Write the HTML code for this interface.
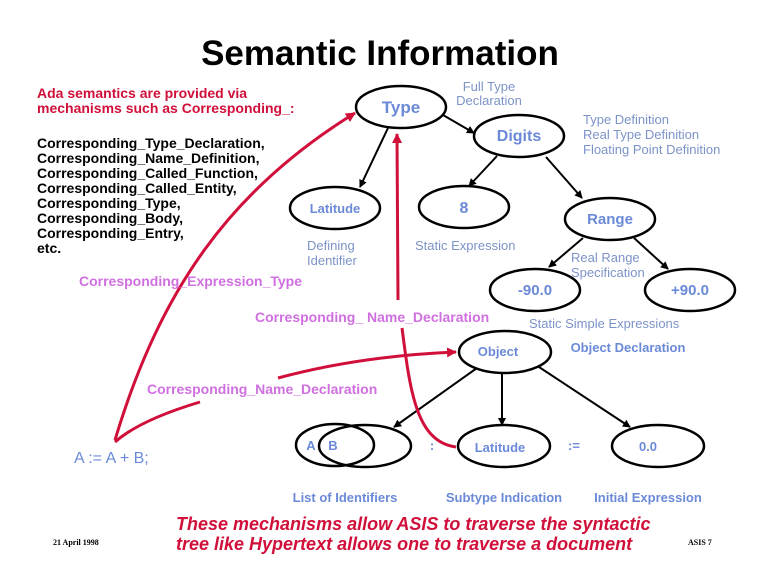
<!DOCTYPE html>
<html><head><meta charset="utf-8"><style>
html,body{margin:0;padding:0;background:#fff;}
svg{display:block;font-family:"Liberation Sans",sans-serif;}
</style></head><body>
<svg width="762" height="588" viewBox="0 0 762 588" xmlns="http://www.w3.org/2000/svg">
<defs>
<marker id="ab" markerWidth="8" markerHeight="8" refX="7" refY="4" orient="auto" markerUnits="userSpaceOnUse"><path d="M0,0 L8,4 L0,8 z" fill="#000"/></marker>
<marker id="ar" markerWidth="10" markerHeight="10" refX="9" refY="5" orient="auto" markerUnits="userSpaceOnUse"><path d="M0,0 L10,5 L0,10 z" fill="#d0103a"/></marker>
</defs>
<text x="380" y="65" text-anchor="middle" font-size="35" font-weight="bold" fill="#000">Semantic Information</text>
<g font-size="14" font-weight="bold" fill="#d0103a">
<text x="37" y="98">Ada semantics are provided via</text>
<text x="37" y="113">mechanisms such as Corresponding_:</text>
</g>
<g font-size="14" font-weight="bold" fill="#000">
<text x="37" y="148">Corresponding_Type_Declaration,</text>
<text x="37" y="163">Corresponding_Name_Definition,</text>
<text x="37" y="178">Corresponding_Called_Function,</text>
<text x="37" y="193">Corresponding_Called_Entity,</text>
<text x="37" y="208">Corresponding_Type,</text>
<text x="37" y="223">Corresponding_Body,</text>
<text x="37" y="238">Corresponding_Entry,</text>
<text x="37" y="253">etc.</text>
</g>
<g fill="none" stroke="#000" stroke-width="2.5">
<ellipse cx="401" cy="107" rx="45" ry="21"/>
<ellipse cx="519" cy="136" rx="45" ry="21"/>
<ellipse cx="335" cy="208" rx="45" ry="21"/>
<ellipse cx="464" cy="207" rx="45" ry="21"/>
<ellipse cx="610" cy="219" rx="45" ry="21"/>
<ellipse cx="535" cy="290" rx="45" ry="21"/>
<ellipse cx="690" cy="290" rx="45" ry="21"/>
<ellipse cx="505" cy="352" rx="46" ry="21"/>
<ellipse cx="335" cy="445" rx="39" ry="21"/>
<ellipse cx="365" cy="446" rx="46" ry="21"/>
<ellipse cx="504" cy="446" rx="46" ry="21"/>
<ellipse cx="658" cy="446" rx="46" ry="21"/>
</g>
<g stroke="#000" stroke-width="2" marker-end="url(#ab)">
<line x1="443" y1="115" x2="474" y2="133"/>
<line x1="388" y1="128" x2="360" y2="187"/>
<line x1="497" y1="156" x2="469" y2="186"/>
<line x1="546" y1="157" x2="582" y2="198"/>
<line x1="583" y1="238" x2="549" y2="267"/>
<line x1="634" y1="238" x2="668" y2="269"/>
<line x1="477" y1="368" x2="394" y2="427"/>
<line x1="502" y1="373" x2="502" y2="425"/>
<line x1="539" y1="367" x2="630" y2="427"/>
</g>
<g fill="none" stroke="#d0103a" stroke-width="3">
<path d="M115,440 C160,290 230,190 355,113" marker-end="url(#ar)"/>
<path d="M200,402 Q140,420 115,442"/>
<path d="M398,300 L397,134" marker-end="url(#ar)"/>
<path d="M402,328 C410,390 416,442 456,447"/>
<path d="M278,378 Q360,356 456,352" marker-end="url(#ar)"/>
</g>
<g font-weight="bold" fill="#6a8ad8" text-anchor="middle">
<text x="401" y="113" font-size="17">Type</text>
<text x="519" y="141" font-size="16">Digits</text>
<text x="335" y="213" font-size="13">Latitude</text>
<text x="464" y="213" font-size="16">8</text>
<text x="610" y="224" font-size="15">Range</text>
<text x="535" y="295" font-size="15">-90.0</text>
<text x="690" y="295" font-size="15">+90.0</text>
<text x="498" y="356" font-size="13">Object</text>
<text x="500" y="452" font-size="13">Latitude</text>
<text x="648" y="451" font-size="13">0.0</text>
<text x="311" y="450" font-size="13">A</text>
<text x="333" y="450" font-size="13">B</text>
<text x="432" y="450" font-size="13">:</text>
<text x="574" y="450" font-size="13">:=</text>
<text x="628" y="352" font-size="13">Object Declaration</text>
<text x="345" y="502" font-size="13">List of Identifiers</text>
<text x="504" y="502" font-size="13">Subtype Indication</text>
<text x="648" y="502" font-size="13">Initial Expression</text>
</g>
<text x="74" y="463" font-size="16" fill="#6a8ad8">A := A + B;</text>
<g font-size="13" fill="#7c93c8">
<text x="489" y="91" text-anchor="middle">Full Type</text>
<text x="489" y="105" text-anchor="middle">Declaration</text>
<text x="583" y="124">Type Definition</text>
<text x="583" y="139">Real Type Definition</text>
<text x="583" y="154">Floating Point Definition</text>
<text x="307" y="250">Defining</text>
<text x="307" y="265">Identifier</text>
<text x="415" y="250">Static Expression</text>
<text x="571" y="262">Real Range</text>
<text x="571" y="277">Specification</text>
<text x="529" y="328">Static Simple Expressions</text>
</g>
<g font-size="14" font-weight="bold" fill="#d070e0">
<text x="79" y="286">Corresponding_Expression_Type</text>
<text x="255" y="322">Corresponding_ Name_Declaration</text>
<text x="147" y="394">Corresponding_Name_Declaration</text>
</g>
<g font-size="18" font-weight="bold" font-style="italic" fill="#d0103a">
<text x="176" y="530">These mechanisms allow ASIS to traverse the syntactic</text>
<text x="176" y="550">tree like Hypertext allows one to traverse a document</text>
</g>
<text x="53" y="545" font-size="8" font-family="Liberation Serif,serif" font-weight="bold">21 April 1998</text>
<text x="688" y="545" font-size="8" font-family="Liberation Serif,serif" font-weight="bold">ASIS 7</text>
</svg>
</body></html>
